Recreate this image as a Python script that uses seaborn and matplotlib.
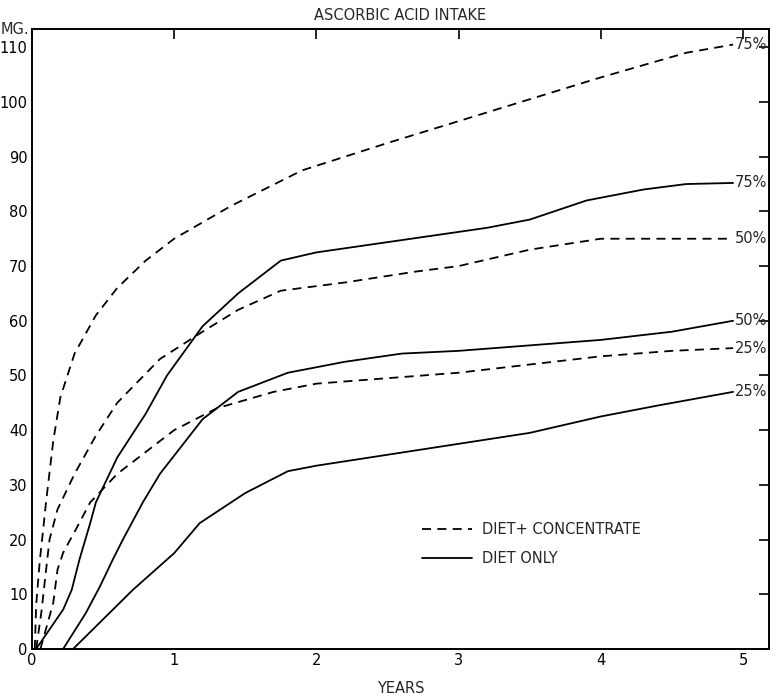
import matplotlib
matplotlib.use("Agg")
import matplotlib.pyplot as plt
import seaborn as sns
import pandas as pd
from matplotlib.lines import Line2D

sns.set_theme(style="white")
plt.rcParams['font.family'] = ['DejaVu Sans']

# Diet + concentrate (dashed)
conc75_x = [0.02, 0.03, 0.055, 0.08, 0.1, 0.15, 0.2, 0.3, 0.45, 0.6, 0.8, 1.0, 1.4, 1.9, 2.5, 3.0, 3.5, 4.0, 4.6, 4.93]
conc75_y = [0, 8, 16, 22, 27, 38, 46, 54, 61, 66, 71, 75, 81, 87.5, 92.5, 96.5, 100.5, 104.5, 109, 110.5]
conc50_x = [0.03, 0.066, 0.1, 0.124, 0.18, 0.3, 0.45, 0.6, 0.9, 1.2, 1.45, 1.75, 2.2, 2.7, 3.0, 3.5, 4.0, 4.5, 4.93]
conc50_y = [0, 6.6, 14.5, 20, 25.5, 32, 39, 45, 53, 58, 62, 65.5, 67, 69, 70, 73, 75, 75, 75]
conc25_x = [0.06, 0.15, 0.18, 0.22, 0.31, 0.41, 0.6, 1.0, 1.3, 1.7, 2.0, 2.5, 3.0, 3.5, 4.0, 4.5, 4.93]
conc25_y = [0, 8.4, 14.5, 17.6, 21.9, 26.8, 32, 40, 44, 47, 48.5, 49.5, 50.5, 52, 53.5, 54.5, 55]

# Diet only (solid)
diet75_x = [0.03, 0.22, 0.28, 0.335, 0.41, 0.45, 0.6, 0.8, 0.95, 1.2, 1.45, 1.75, 2.0, 2.4, 2.8, 3.2, 3.5, 3.9, 4.3, 4.6, 4.93]
diet75_y = [0, 7.2, 10.8, 16.4, 23, 26.8, 35, 43, 50, 59, 65, 71, 72.5, 74, 75.5, 77, 78.5, 82, 84, 85, 85.2]
diet50_x = [0.0, 0.22, 0.38, 0.48, 0.57, 0.64, 0.78, 0.9, 1.2, 1.45, 1.8, 2.2, 2.6, 3.0, 3.5, 4.0, 4.5, 4.93]
diet50_y = [0, 0, 6.6, 11.5, 16.4, 20, 26.8, 32, 42, 47, 50.5, 52.5, 54, 54.5, 55.5, 56.5, 58, 60]
diet25_x = [0.0, 0.29, 0.71, 1.0, 1.18, 1.5, 1.8, 2.0, 2.5, 3.0, 3.5, 4.0, 4.4, 4.93]
diet25_y = [0, 0, 10.8, 17.5, 23, 28.5, 32.5, 33.5, 35.5, 37.5, 39.5, 42.5, 44.5, 47]

series = [
    ("conc75", conc75_x, conc75_y, "--", "75%"),
    ("conc50", conc50_x, conc50_y, "--", "50%"),
    ("conc25", conc25_x, conc25_y, "--", "25%"),
    ("diet75", diet75_x, diet75_y, "-", "75%"),
    ("diet50", diet50_x, diet50_y, "-", "50%"),
    ("diet25", diet25_x, diet25_y, "-", "25%"),
]

FS = 10.5

fig = plt.figure(figsize=(7.78, 6.97), dpi=100)
ax = fig.add_axes([0.041, 0.069, 0.947, 0.889])

for name, xs, ys, ls, lab in series:
    df = pd.DataFrame({"x": xs, "y": ys})
    sns.lineplot(data=df, x="x", y="y", ax=ax, color="black", linewidth=1.3,
                 linestyle=ls, sort=False, estimator=None)
    if ls == "--":
        ax.lines[-1].set_dashes((5, 3.5))
    ax.text(xs[-1] + 0.01, ys[-1], lab, fontsize=FS, va="center", ha="left")

ax.set_xlim(0, 5.18)
ax.set_ylim(0, 113.3)
ax.set_xticks([0, 1, 2, 3, 4, 5])
ax.set_xticklabels(["0", "1", "2", "3", "4", "5"])
ax.set_yticks(list(range(0, 111, 10)))
ax.set_yticklabels([str(v) for v in range(0, 111, 10)])
ax.tick_params(direction="in", length=7, width=1.2, top=True, right=True,
               labelsize=FS, colors="black", pad=3)
for s in ax.spines.values():
    s.set_color("black")
    s.set_linewidth(1.4)
ax.set_xlabel("YEARS", fontsize=FS, labelpad=9)
ax.set_ylabel("")
ax.set_title("ASCORBIC ACID INTAKE", fontsize=FS, pad=7)
ax.text(-0.02, 113.3, "MG.", fontsize=FS, ha="right", va="center")

handles = [Line2D([0], [0], color="black", lw=1.3, linestyle="--", dashes=(5, 3.5)),
           Line2D([0], [0], color="black", lw=1.3, linestyle="-")]
leg = ax.legend(handles, ["DIET+ CONCENTRATE", "DIET ONLY"], loc="center left",
                bbox_to_anchor=(0.53, 0.169), frameon=False, fontsize=FS,
                handlelength=3.4, handletextpad=0.7, labelspacing=0.95,
                borderpad=0, borderaxespad=0)

fig.savefig("out.png", dpi=100)
